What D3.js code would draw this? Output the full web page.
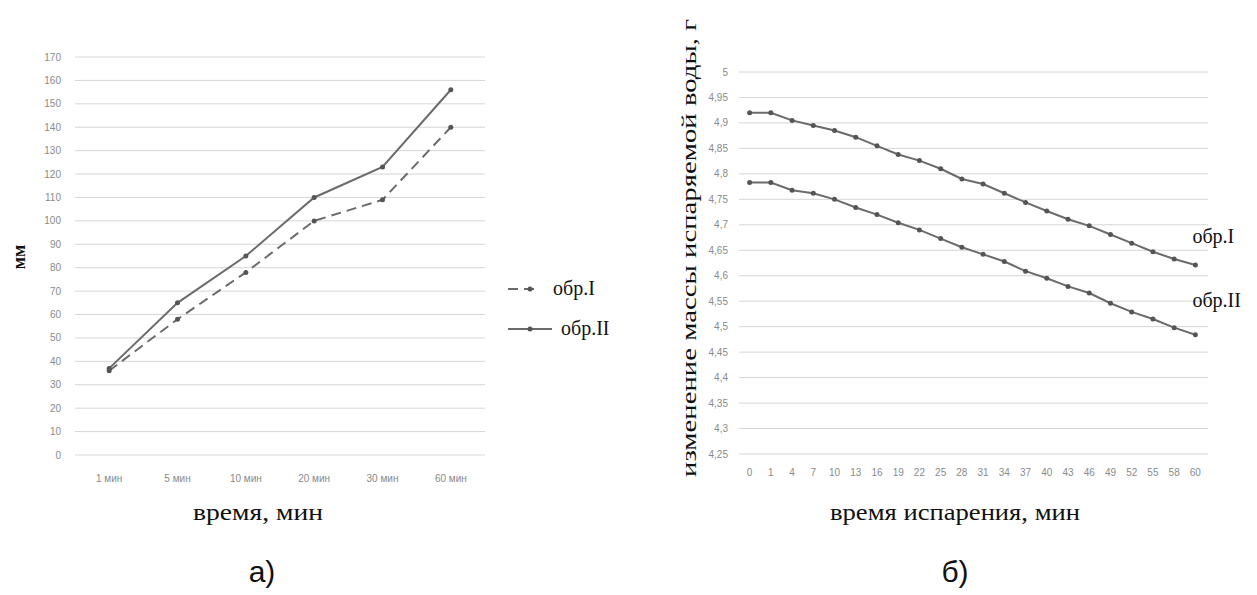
<!DOCTYPE html>
<html>
<head>
<meta charset="utf-8">
<script src="https://cdn.jsdelivr.net/npm/d3@7"></script>
<style>
  body { margin: 0; background: #fff; }
  svg { display: block; }
  .tick-label { font-family: "Liberation Sans", sans-serif; font-size: 10px; fill: #8a8a8a; }
  .title { font-family: "Liberation Serif", serif; fill: #111; }
</style>
</head>
<body>
<svg id="chart" width="1257" height="595"></svg>
<script>
//Left chart data (а)
const timeLabels = ["1 мин", "5 мин", "10 мин", "20 мин", "30 мин", "60 мин"]
const sample1 = [36, 58, 78, 100, 109, 140]
const sample2 = [37, 65, 85, 110, 123, 156]
const leftTicks = d3.range(0, 171, 10)

//Right chart data (б)
const evapTimes = ["0", "1", "4", "7", "10", "13", "16", "19", "22", "25", "28", "31", "34", "37", "40", "43", "46", "49", "52", "55", "58", "60"]
const massI = [4.92, 4.92, 4.905, 4.895, 4.885, 4.872, 4.855, 4.838, 4.826, 4.81, 4.79, 4.78, 4.762, 4.744, 4.727, 4.711, 4.698, 4.681, 4.664, 4.647, 4.633, 4.621]
const massII = [4.783, 4.783, 4.768, 4.762, 4.75, 4.734, 4.72, 4.704, 4.69, 4.673, 4.656, 4.642, 4.628, 4.609, 4.595, 4.579, 4.566, 4.546, 4.529, 4.515, 4.498, 4.484]
const rightTicks = [5, 4.95, 4.9, 4.85, 4.8, 4.75, 4.7, 4.65, 4.6, 4.55, 4.5, 4.45, 4.4, 4.35, 4.3, 4.25]

const lineColor = "#6b6b6b"
const gridColor = "#d6d6d6"

const svg = d3.select("#chart")

//Draw a grid of horizontal lines with tick labels on the left
function drawGrid(g, y, ticks, x0, x1, labelX, fmt) {
  g.append("g")
    .selectAll("line")
    .data(ticks)
    .enter()
    .append("line")
    .attr("x1", x0)
    .attr("x2", x1)
    .attr("y1", d => y(d))
    .attr("y2", d => y(d))
    .attr("stroke", gridColor)
    .attr("stroke-width", 1)

  g.append("g")
    .selectAll("text")
    .data(ticks)
    .enter()
    .append("text")
    .attr("class", "tick-label")
    .attr("x", labelX)
    .attr("y", d => y(d))
    .attr("dy", "0.35em")
    .attr("text-anchor", "end")
    .text(fmt)
}

//Line with markers
function drawSeries(g, cats, values, x, y, dash) {
  const data = cats.map((c, i) => ({ c, v: values[i] }))
  const line = d3.line()
    .x(d => x(d.c) + x.bandwidth() / 2)
    .y(d => y(d.v))

  g.append("path")
    .datum(data)
    .attr("d", line)
    .attr("fill", "none")
    .attr("stroke", lineColor)
    .attr("stroke-width", 2)
    .attr("stroke-dasharray", dash || null)

  g.append("g")
    .selectAll("circle")
    .data(data)
    .enter()
    .append("circle")
    .attr("cx", d => x(d.c) + x.bandwidth() / 2)
    .attr("cy", d => y(d.v))
    .attr("r", 2.5)
    .attr("fill", "#555")
}

//Chart а)
const left = svg.append("g")
const xLeft = d3.scaleBand().domain(timeLabels).range([75, 485])
const yLeft = d3.scaleLinear().domain([0, 170]).range([455, 57])

drawGrid(left, yLeft, leftTicks, 75, 485, 61, d => d)

left.append("g")
  .selectAll("text")
  .data(timeLabels)
  .enter()
  .append("text")
  .attr("class", "tick-label")
  .attr("x", d => xLeft(d) + xLeft.bandwidth() / 2)
  .attr("y", 482)
  .attr("text-anchor", "middle")
  .text(d => d)

drawSeries(left, timeLabels, sample1, xLeft, yLeft, "10,6")
drawSeries(left, timeLabels, sample2, xLeft, yLeft)

//Legend
const legendItems = [["обр.I", "10,6", 289, 553, 540], ["обр.II", null, 329, 561, 552]]
legendItems.forEach(([name, dash, ly, tx, lx]) => {
  left.append("line")
    .attr("x1", 508).attr("x2", lx)
    .attr("y1", ly).attr("y2", ly)
    .attr("stroke", lineColor)
    .attr("stroke-width", 2)
    .attr("stroke-dasharray", dash)
  left.append("circle")
    .attr("cx", 530).attr("cy", ly).attr("r", 2.5).attr("fill", "#555")
  left.append("text")
    .attr("class", "title")
    .attr("x", tx)
    .attr("y", ly + 6)
    .attr("font-size", 20)
    .text(name)
})

left.append("text")
  .attr("class", "title")
  .attr("transform", "translate(25,257) rotate(-90)")
  .attr("text-anchor", "middle")
  .attr("font-size", 18)
  .attr("font-weight", "bold")
  .text("мм")

left.append("text")
  .attr("class", "title")
  .attr("x", 258)
  .attr("y", 520)
  .attr("text-anchor", "middle")
  .attr("font-size", 23)
  .attr("textLength", 130)
  .attr("lengthAdjust", "spacingAndGlyphs")
  .text("время, мин")

left.append("text")
  .attr("x", 262)
  .attr("y", 582)
  .attr("text-anchor", "middle")
  .attr("font-family", "Liberation Sans, sans-serif")
  .attr("font-size", 30)
  .attr("fill", "#111")
  .text("а)")

//Chart б)
const right = svg.append("g")
const xRight = d3.scaleBand().domain(evapTimes).range([739, 1206])
const yRight = d3.scaleLinear().domain([4.25, 5]).range([454, 72])
const commaFmt = d => String(d).replace(".", ",")

drawGrid(right, yRight, rightTicks, 739, 1208, 728, commaFmt)

right.append("g")
  .selectAll("text")
  .data(evapTimes)
  .enter()
  .append("text")
  .attr("class", "tick-label")
  .attr("x", d => xRight(d) + xRight.bandwidth() / 2)
  .attr("y", 476)
  .attr("text-anchor", "middle")
  .text(d => d)

drawSeries(right, evapTimes, massI, xRight, yRight)
drawSeries(right, evapTimes, massII, xRight, yRight)

//Series labels above line ends
const lastCat = evapTimes[evapTimes.length - 1]
const endX = xRight(lastCat) + xRight.bandwidth() / 2
right.append("text")
  .attr("class", "title")
  .attr("x", endX - 3)
  .attr("y", yRight(massI[massI.length - 1]) - 22)
  .attr("font-size", 20)
  .text("обр.I")
right.append("text")
  .attr("class", "title")
  .attr("x", endX - 3)
  .attr("y", yRight(massII[massII.length - 1]) - 28)
  .attr("font-size", 20)
  .text("обр.II")

right.append("text")
  .attr("class", "title")
  .attr("transform", "translate(696,248) rotate(-90)")
  .attr("text-anchor", "middle")
  .attr("font-size", 22)
  .attr("textLength", 458)
  .attr("lengthAdjust", "spacingAndGlyphs")
  .text("изменение массы испаряемой воды, г")

right.append("text")
  .attr("class", "title")
  .attr("x", 955)
  .attr("y", 520)
  .attr("text-anchor", "middle")
  .attr("font-size", 23)
  .attr("textLength", 250)
  .attr("lengthAdjust", "spacingAndGlyphs")
  .text("время испарения, мин")

right.append("text")
  .attr("x", 955)
  .attr("y", 582)
  .attr("text-anchor", "middle")
  .attr("font-family", "Liberation Sans, sans-serif")
  .attr("font-size", 30)
  .attr("fill", "#111")
  .text("б)")
</script>
</body>
</html>
